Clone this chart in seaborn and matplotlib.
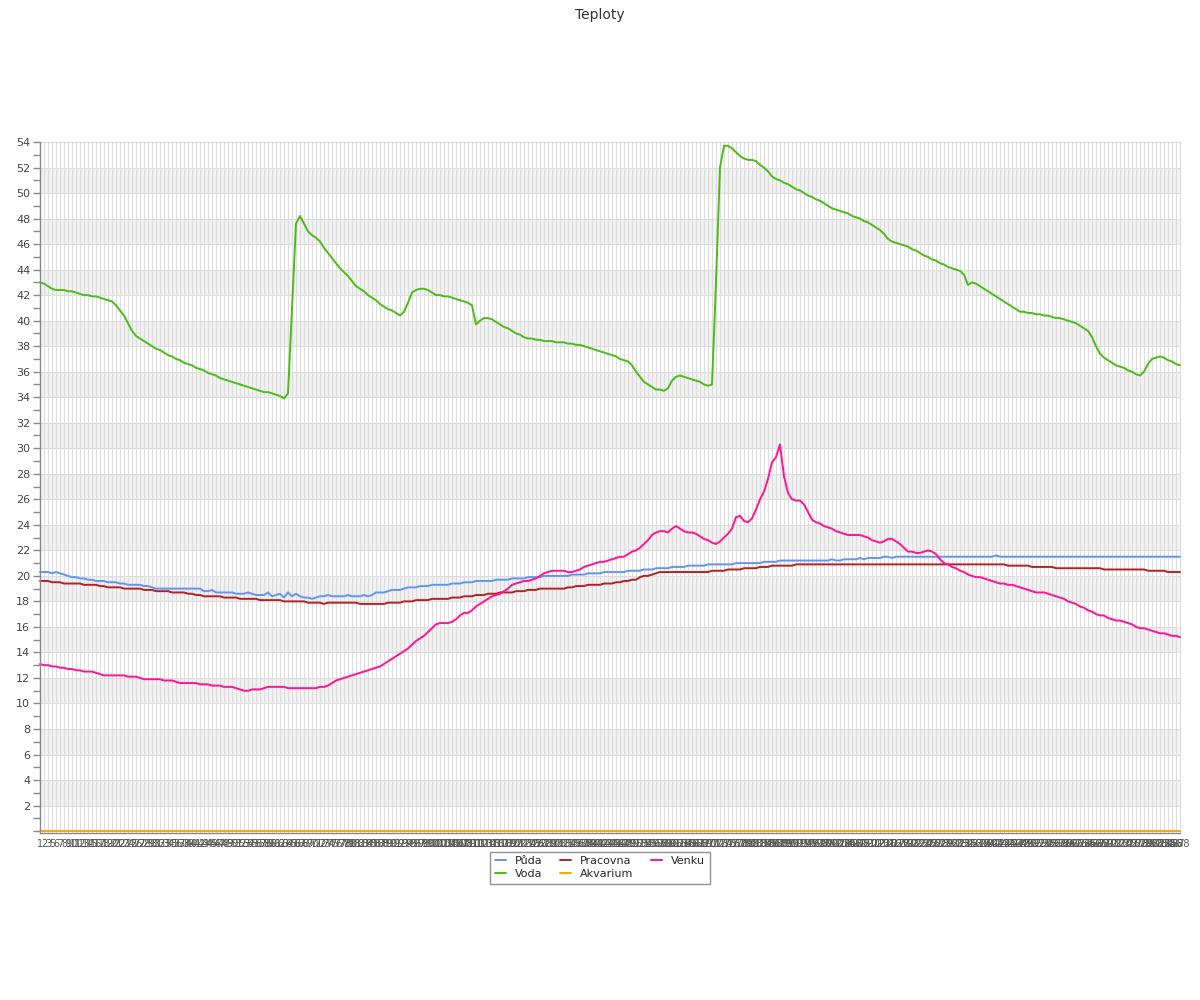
import numpy as np
import pandas as pd
import seaborn as sns
import matplotlib
matplotlib.use("Agg")
import matplotlib.pyplot as plt
from matplotlib.ticker import MultipleLocator

# x categories (sample numbers as shown on the axis)
labels = [str(n) for n in range(1, 289) if n not in (4, 150)]

puda = [
    20.3, 20.3, 20.3, 20.2, 20.3, 20.2, 20.1, 20.0, 19.9, 19.9,
    19.8, 19.8, 19.7, 19.7, 19.6, 19.6, 19.6, 19.5, 19.5, 19.5,
    19.4, 19.4, 19.3, 19.3, 19.3, 19.3, 19.2, 19.2, 19.1, 19.0,
    19.0, 19.0, 19.0, 19.0, 19.0, 19.0, 19.0, 19.0, 19.0, 19.0,
    19.0, 18.8, 18.8, 18.9, 18.7, 18.7, 18.7, 18.7, 18.7, 18.6,
    18.6, 18.6, 18.7, 18.6, 18.5, 18.5, 18.5, 18.7, 18.4, 18.5,
    18.6, 18.3, 18.7, 18.4, 18.6, 18.4, 18.3, 18.3, 18.2, 18.3,
    18.4, 18.4, 18.5, 18.4, 18.4, 18.4, 18.4, 18.5, 18.4, 18.4,
    18.4, 18.5, 18.4, 18.5, 18.7, 18.7, 18.7, 18.8, 18.9, 18.9,
    18.9, 19.0, 19.1, 19.1, 19.1, 19.2, 19.2, 19.2, 19.3, 19.3,
    19.3, 19.3, 19.3, 19.4, 19.4, 19.4, 19.5, 19.5, 19.5, 19.6,
    19.6, 19.6, 19.6, 19.6, 19.7, 19.7, 19.7, 19.7, 19.8, 19.8,
    19.8, 19.8, 19.9, 19.9, 19.9, 19.9, 20.0, 20.0, 20.0, 20.0,
    20.0, 20.0, 20.0, 20.1, 20.1, 20.1, 20.1, 20.2, 20.2, 20.2,
    20.2, 20.3, 20.3, 20.3, 20.3, 20.3, 20.3, 20.4, 20.4, 20.4,
    20.4, 20.5, 20.5, 20.5, 20.6, 20.6, 20.6, 20.6, 20.7, 20.7,
    20.7, 20.7, 20.8, 20.8, 20.8, 20.8, 20.8, 20.9, 20.9, 20.9,
    20.9, 20.9, 20.9, 20.9, 21.0, 21.0, 21.0, 21.0, 21.0, 21.0,
    21.0, 21.1, 21.1, 21.1, 21.1, 21.2, 21.2, 21.2, 21.2, 21.2,
    21.2, 21.2, 21.2, 21.2, 21.2, 21.2, 21.2, 21.2, 21.3, 21.2,
    21.2, 21.3, 21.3, 21.3, 21.3, 21.4, 21.3, 21.4, 21.4, 21.4,
    21.4, 21.5, 21.5, 21.4, 21.5, 21.5, 21.5, 21.5, 21.5, 21.5,
    21.5, 21.5, 21.5, 21.5, 21.5, 21.5, 21.5, 21.5, 21.5, 21.5,
    21.5, 21.5, 21.5, 21.5, 21.5, 21.5, 21.5, 21.5, 21.5, 21.6,
    21.5, 21.5, 21.5, 21.5, 21.5, 21.5, 21.5, 21.5, 21.5, 21.5,
    21.5, 21.5, 21.5, 21.5, 21.5, 21.5, 21.5, 21.5, 21.5, 21.5,
    21.5, 21.5, 21.5, 21.5, 21.5, 21.5, 21.5, 21.5, 21.5, 21.5,
    21.5, 21.5, 21.5, 21.5, 21.5, 21.5, 21.5, 21.5, 21.5, 21.5,
    21.5, 21.5, 21.5, 21.5, 21.5, 21.5,
]

voda = [
    43.0, 42.9, 42.7, 42.5, 42.4, 42.4, 42.4, 42.3, 42.3, 42.2,
    42.1, 42.0, 42.0, 41.9, 41.9, 41.8, 41.7, 41.6, 41.5, 41.2,
    40.8, 40.4, 39.8, 39.2, 38.8, 38.6, 38.4, 38.2, 38.0, 37.8,
    37.7, 37.5, 37.3, 37.2, 37.0, 36.9, 36.7, 36.6, 36.5, 36.3,
    36.2, 36.1, 35.9, 35.8, 35.7, 35.5, 35.4, 35.3, 35.2, 35.1,
    35.0, 34.9, 34.8, 34.7, 34.6, 34.5, 34.4, 34.4, 34.3, 34.2,
    34.1, 33.9, 34.3, 41.0, 47.6, 48.2, 47.6, 47.0, 46.7, 46.5,
    46.2, 45.7, 45.3, 44.9, 44.5, 44.1, 43.8, 43.5, 43.1, 42.7,
    42.5, 42.3, 42.0, 41.8, 41.6, 41.3, 41.1, 40.9, 40.8, 40.6,
    40.4, 40.7, 41.4, 42.2, 42.4, 42.5, 42.5, 42.4, 42.2, 42.0,
    42.0, 41.9, 41.9, 41.8, 41.7, 41.6, 41.5, 41.4, 41.2, 39.7,
    40.0, 40.2, 40.2, 40.1, 39.9, 39.7, 39.5, 39.4, 39.2, 39.0,
    38.9, 38.7, 38.6, 38.6, 38.5, 38.5, 38.4, 38.4, 38.4, 38.3,
    38.3, 38.3, 38.2, 38.2, 38.1, 38.1, 38.0, 37.9, 37.8, 37.7,
    37.6, 37.5, 37.4, 37.3, 37.2, 37.0, 36.9, 36.8, 36.5, 36.0,
    35.6, 35.2, 35.0, 34.8, 34.6, 34.6, 34.5, 34.7, 35.3, 35.6,
    35.7, 35.6, 35.5, 35.4, 35.3, 35.2, 35.0, 34.9, 35.0, 43.0,
    52.0, 53.7, 53.7, 53.5, 53.2, 52.9, 52.7, 52.6, 52.6, 52.5,
    52.2, 52.0, 51.7, 51.3, 51.1, 51.0, 50.8, 50.7, 50.5, 50.3,
    50.2, 50.0, 49.8, 49.7, 49.5, 49.4, 49.2, 49.0, 48.8, 48.7,
    48.6, 48.5, 48.4, 48.2, 48.1, 48.0, 47.8, 47.7, 47.5, 47.3,
    47.1, 46.8, 46.4, 46.2, 46.1, 46.0, 45.9, 45.8, 45.6, 45.5,
    45.3, 45.1, 45.0, 44.8, 44.7, 44.5, 44.4, 44.2, 44.1, 44.0,
    43.9, 43.6, 42.8, 43.0, 42.9, 42.7, 42.5, 42.3, 42.1, 41.9,
    41.7, 41.5, 41.3, 41.1, 40.9, 40.7, 40.7, 40.6, 40.6, 40.5,
    40.5, 40.4, 40.4, 40.3, 40.2, 40.2, 40.1, 40.0, 39.9, 39.8,
    39.6, 39.4, 39.2, 38.7, 38.0, 37.4, 37.1, 36.9, 36.7, 36.5,
    36.4, 36.3, 36.1, 36.0, 35.8, 35.7, 36.0, 36.6, 37.0, 37.1,
    37.2, 37.1, 36.9, 36.8, 36.6, 36.5,
]

pracovna = [
    19.6, 19.6, 19.6, 19.5, 19.5, 19.5, 19.4, 19.4, 19.4, 19.4,
    19.4, 19.3, 19.3, 19.3, 19.3, 19.2, 19.2, 19.1, 19.1, 19.1,
    19.1, 19.0, 19.0, 19.0, 19.0, 19.0, 18.9, 18.9, 18.9, 18.8,
    18.8, 18.8, 18.8, 18.7, 18.7, 18.7, 18.7, 18.6, 18.6, 18.5,
    18.5, 18.4, 18.4, 18.4, 18.4, 18.4, 18.3, 18.3, 18.3, 18.3,
    18.2, 18.2, 18.2, 18.2, 18.2, 18.1, 18.1, 18.1, 18.1, 18.1,
    18.1, 18.0, 18.0, 18.0, 18.0, 18.0, 18.0, 17.9, 17.9, 17.9,
    17.9, 17.8, 17.9, 17.9, 17.9, 17.9, 17.9, 17.9, 17.9, 17.9,
    17.8, 17.8, 17.8, 17.8, 17.8, 17.8, 17.8, 17.9, 17.9, 17.9,
    17.9, 18.0, 18.0, 18.0, 18.1, 18.1, 18.1, 18.1, 18.2, 18.2,
    18.2, 18.2, 18.2, 18.3, 18.3, 18.3, 18.4, 18.4, 18.4, 18.5,
    18.5, 18.5, 18.6, 18.6, 18.6, 18.7, 18.7, 18.7, 18.7, 18.8,
    18.8, 18.8, 18.9, 18.9, 18.9, 19.0, 19.0, 19.0, 19.0, 19.0,
    19.0, 19.0, 19.1, 19.1, 19.2, 19.2, 19.2, 19.3, 19.3, 19.3,
    19.3, 19.4, 19.4, 19.4, 19.5, 19.5, 19.6, 19.6, 19.7, 19.7,
    19.9, 20.0, 20.0, 20.1, 20.2, 20.3, 20.3, 20.3, 20.3, 20.3,
    20.3, 20.3, 20.3, 20.3, 20.3, 20.3, 20.3, 20.3, 20.4, 20.4,
    20.4, 20.4, 20.5, 20.5, 20.5, 20.5, 20.6, 20.6, 20.6, 20.6,
    20.7, 20.7, 20.7, 20.8, 20.8, 20.8, 20.8, 20.8, 20.8, 20.9,
    20.9, 20.9, 20.9, 20.9, 20.9, 20.9, 20.9, 20.9, 20.9, 20.9,
    20.9, 20.9, 20.9, 20.9, 20.9, 20.9, 20.9, 20.9, 20.9, 20.9,
    20.9, 20.9, 20.9, 20.9, 20.9, 20.9, 20.9, 20.9, 20.9, 20.9,
    20.9, 20.9, 20.9, 20.9, 20.9, 20.9, 20.9, 20.9, 20.9, 20.9,
    20.9, 20.9, 20.9, 20.9, 20.9, 20.9, 20.9, 20.9, 20.9, 20.9,
    20.9, 20.9, 20.8, 20.8, 20.8, 20.8, 20.8, 20.8, 20.7, 20.7,
    20.7, 20.7, 20.7, 20.7, 20.6, 20.6, 20.6, 20.6, 20.6, 20.6,
    20.6, 20.6, 20.6, 20.6, 20.6, 20.6, 20.5, 20.5, 20.5, 20.5,
    20.5, 20.5, 20.5, 20.5, 20.5, 20.5, 20.5, 20.4, 20.4, 20.4,
    20.4, 20.4, 20.3, 20.3, 20.3, 20.3,
]

akvarium = [0.0] * len(labels)

venku = [
    13.1, 13.0, 13.0, 12.9, 12.9, 12.8, 12.8, 12.7, 12.7, 12.6,
    12.6, 12.5, 12.5, 12.5, 12.4, 12.3, 12.2, 12.2, 12.2, 12.2,
    12.2, 12.2, 12.1, 12.1, 12.1, 12.0, 11.9, 11.9, 11.9, 11.9,
    11.9, 11.8, 11.8, 11.8, 11.7, 11.6, 11.6, 11.6, 11.6, 11.6,
    11.5, 11.5, 11.5, 11.4, 11.4, 11.4, 11.3, 11.3, 11.3, 11.2,
    11.1, 11.0, 11.0, 11.1, 11.1, 11.1, 11.2, 11.3, 11.3, 11.3,
    11.3, 11.3, 11.2, 11.2, 11.2, 11.2, 11.2, 11.2, 11.2, 11.2,
    11.3, 11.3, 11.4, 11.6, 11.8, 11.9, 12.0, 12.1, 12.2, 12.3,
    12.4, 12.5, 12.6, 12.7, 12.8, 12.9, 13.1, 13.3, 13.5, 13.7,
    13.9, 14.1, 14.3, 14.6, 14.9, 15.1, 15.3, 15.6, 15.9, 16.2,
    16.3, 16.3, 16.3, 16.4, 16.6, 16.9, 17.1, 17.1, 17.3, 17.6,
    17.8, 18.0, 18.2, 18.4, 18.5, 18.6, 18.8, 19.0, 19.3, 19.4,
    19.5, 19.6, 19.6, 19.7, 19.8, 20.0, 20.2, 20.3, 20.4, 20.4,
    20.4, 20.4, 20.3, 20.3, 20.4, 20.5, 20.7, 20.8, 20.9, 21.0,
    21.1, 21.1, 21.2, 21.3, 21.4, 21.5, 21.5, 21.7, 21.9, 22.0,
    22.2, 22.5, 22.8, 23.2, 23.4, 23.5, 23.5, 23.4, 23.7, 23.9,
    23.7, 23.5, 23.4, 23.4, 23.3, 23.1, 22.9, 22.8, 22.6, 22.5,
    22.7, 23.0, 23.3, 23.7, 24.6, 24.7, 24.3, 24.2, 24.5, 25.2,
    26.0, 26.6, 27.6, 28.9, 29.3, 30.3, 27.8, 26.5, 26.0, 25.9,
    25.9, 25.6, 25.0, 24.4, 24.2, 24.1, 23.9, 23.8, 23.7, 23.5,
    23.4, 23.3, 23.2, 23.2, 23.2, 23.2, 23.1, 23.0, 22.8, 22.7,
    22.6, 22.7, 22.9, 22.9, 22.7, 22.5, 22.2, 21.9, 21.9, 21.8,
    21.8, 21.9, 22.0, 21.9, 21.7, 21.3, 21.0, 20.9, 20.7, 20.6,
    20.4, 20.3, 20.1, 20.0, 19.9, 19.9, 19.8, 19.7, 19.6, 19.5,
    19.4, 19.4, 19.3, 19.3, 19.2, 19.1, 19.0, 18.9, 18.8, 18.7,
    18.7, 18.7, 18.6, 18.5, 18.4, 18.3, 18.2, 18.0, 17.9, 17.8,
    17.6, 17.5, 17.3, 17.2, 17.0, 16.9, 16.9, 16.7, 16.6, 16.5,
    16.5, 16.4, 16.3, 16.2, 16.0, 15.9, 15.9, 15.8, 15.7, 15.6,
    15.5, 15.5, 15.4, 15.3, 15.3, 15.2,
]

series = {"Půda": puda, "Voda": voda, "Pracovna": pracovna,
          "Akvarium": akvarium, "Venku": venku}
colors = {"Půda": "#6495ED", "Voda": "#4CBB17", "Pracovna": "#B22222",
          "Akvarium": "#FFA500", "Venku": "#FF1493"}

pos = np.arange(len(labels))
df = pd.concat([pd.DataFrame({"pos": pos, "teplota": v, "cidlo": k})
                for k, v in series.items()], ignore_index=True)

sns.set_style("white")
plt.rcParams["font.family"] = ["DejaVu Sans"]

fig = plt.figure(figsize=(12, 10), dpi=100)
ax = fig.add_axes([40 / 1200, 1 - 833 / 1000, 1140 / 1200, (833 - 142) / 1000])

# alternating bands
for lo in range(2, 54, 4):
    ax.axhspan(lo, lo + 2, color="#f2f2f2", zorder=0, lw=0)
for p in pos:
    ax.axvline(p, color="#dddddd", lw=0.8, zorder=0.5)
for yv in range(2, 55, 2):
    ax.axhline(yv, color="#dddddd", lw=0.8, zorder=0.5)

sns.lineplot(data=df, x="pos", y="teplota", hue="cidlo", palette=colors,
             hue_order=list(series.keys()), lw=1.4, ax=ax, legend=True)
for ln in ax.lines:
    ln.set_clip_on(False)

ax.set_xlim(0, len(labels) - 1)
ax.set_ylim(-0.15, 54)
ax.yaxis.set_minor_locator(MultipleLocator(1))
ax.set_yticks(range(0, 55, 2))
ax.set_yticklabels([""] + [str(v) for v in range(2, 55, 2)])
ax.tick_params(axis="y", which="both", left=True, length=5, width=1,
               color="#888888", labelsize=8, labelcolor="#444444", pad=2)
ax.set_xticks(pos)
ax.set_xticklabels(labels, fontsize=7, color="#555555")
ax.tick_params(axis="x", length=0, pad=4)
ax.set_xlabel("")
ax.set_ylabel("")
for s in ["top", "right"]:
    ax.spines[s].set_visible(False)
for s in ["left", "bottom"]:
    ax.spines[s].set_color("#888888")
    ax.spines[s].set_linewidth(1)

fig.suptitle("Teploty", y=0.992, fontsize=10, color="#333333")

handles, lbls = ax.get_legend_handles_labels()
ax.get_legend().remove()
fig.legend(handles, lbls, loc="upper center", bbox_to_anchor=(0.5, 0.154),
           ncol=3, fontsize=8, frameon=True, fancybox=False,
           edgecolor="#777777", handlelength=1.0, columnspacing=1.6,
           borderpad=0.4, labelspacing=0.3)

fig.savefig("out.png", dpi=100)
